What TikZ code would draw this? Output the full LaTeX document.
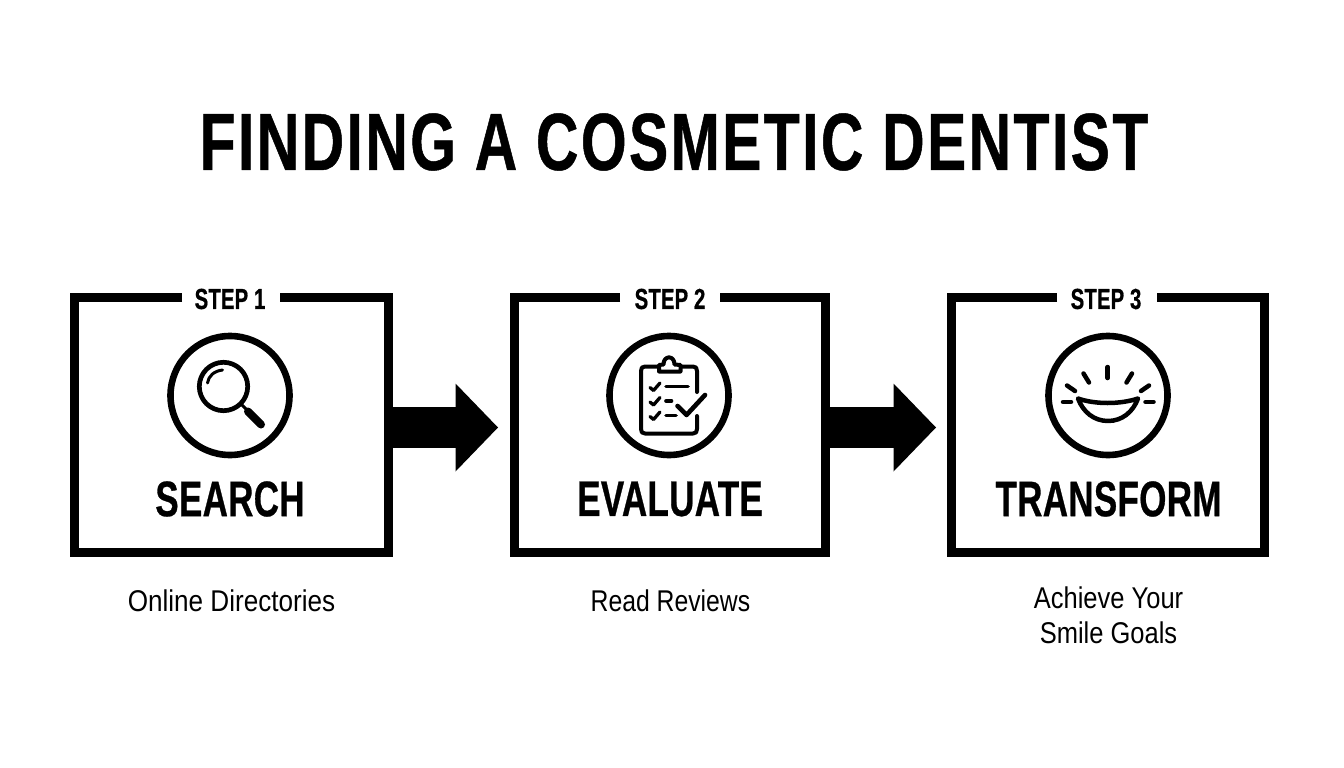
\documentclass[tikz,border=0pt]{standalone}
\usepackage{fontspec}
\usetikzlibrary{arrows.meta,calc}
\newfontfamily\headfont[FakeStretch=0.726,LetterSpace=3,FakeBold=0.6]{Liberation Sans Bold}
\newfontfamily\stepfont[FakeStretch=0.70,LetterSpace=0.6,FakeBold=0.6]{Liberation Sans Bold}
\newfontfamily\subfont[FakeStretch=0.85]{Liberation Sans}
\newfontfamily\subfontA[FakeStretch=0.87]{Liberation Sans}
\newfontfamily\subfontB[FakeStretch=0.825]{Liberation Sans}
\definecolor{ink}{HTML}{000000}
\tikzset{
  x=1pt,y=-1pt,
  boxframe/.style={draw=none,minimum width=314pt,minimum height=254pt,inner sep=0pt,outer sep=4.5pt},
  frameline/.style={draw=ink,line width=9pt,line join=miter},
  stepname/.style={text=ink,font=\stepfont\fontsize{29}{30}\selectfont,inner sep=0pt,anchor=center},
  boxtitle/.style={text=ink,font=\stepfont\fontsize{50}{52}\selectfont,inner sep=0pt,anchor=center},
  subtext/.style={text=ink,font=\subfont\fontsize{30}{35}\selectfont,inner sep=0pt,anchor=center,align=center},
  ringicon/.style={circle,draw=ink,line width=6.6pt,minimum size=119pt,inner sep=0pt,outer sep=3.3pt},
  glyph/.style={draw=ink,line width=4.5pt,line cap=round,line join=round},
  blockarrow/.style={draw=ink,line width=40.5pt,-{Triangle[length=42.5pt,width=88pt,line width=0pt,fill=ink]}},
}
\begin{document}
\begin{tikzpicture}
\useasboundingbox[fill=white] (0,0) rectangle (1344,768);
\node[text=ink,inner sep=0pt,font=\headfont\fontsize{81}{84}\selectfont] (title) at (674,142) {FINDING A COSMETIC DENTIST};

% boxes
\node[boxframe] (box1) at (231.5,424.5) {};
\node[boxframe,minimum width=311pt] (box2) at (670,424.5) {};
\node[boxframe,minimum width=313pt] (box3) at (1108,424.5) {};
\draw[frameline] (182,297.5) -- (74.5,297.5) -- (74.5,552) -- (388.5,552) -- (388.5,297.5) -- (280,297.5);
\draw[frameline] (620,297.5) -- (514.5,297.5) -- (514.5,552) -- (825.5,552) -- (825.5,297.5) -- (720,297.5);
\draw[frameline] (1057,297.5) -- (951.5,297.5) -- (951.5,552) -- (1264.5,552) -- (1264.5,297.5) -- (1157,297.5);
\node[stepname] (s1) at (230,299) {STEP 1};
\node[stepname] (s2) at (670,299) {STEP 2};
\node[stepname] (s3) at (1106,299) {STEP 3};

% arrows
\coordinate (tip1) at (498,427.5);
\coordinate (tip2) at (936,427.5);
\draw[blockarrow] (box1.east|-tip1) -- (tip1);
\draw[blockarrow] (box2.east|-tip2) -- (tip2);

% ring icons
\node[ringicon] (ring1) at (230,395.5) {};
\node[ringicon] (ring2) at (669,395.5) {};
\node[ringicon] (ring3) at (1108,395.5) {};

% magnifier
\draw[glyph,line width=4.7pt] (223.5,386.5) circle (24.2);
\draw[glyph,line width=3pt] (207.5,383) .. controls (208.5,376) and (214,371) .. (222.5,370);
\draw[glyph,line width=3pt] (241,404) -- (249,412);
\draw[glyph,line width=8pt] (248,411.5) -- (261,424.5);

% clipboard
\draw[glyph,line width=4pt] (697,392) -- (697,371) .. controls (697,368) and (696,366.5) .. (693,366.5) -- (682,366.5);
\draw[glyph,line width=4pt] (658,366.5) -- (645,366.5) .. controls (642,366.5) and (641,368) .. (641,371) -- (641,429) .. controls (641,432) and (642,433.5) .. (645,433.5) -- (693,433.5) .. controls (696,433.5) and (697,432) .. (697,429) -- (697,416);
\draw[glyph,line width=4pt,fill=white] (659,371.5) -- (659,365) -- (663.5,364.5) .. controls (663.5,355) and (674.5,355) .. (674.5,364.5) -- (680.5,365) -- (680.5,371.5) -- cycle;
\foreach \yy/\xe in {0/688,14.5/671.5,29/676}{
  \draw[glyph,line width=3.3pt] (650,{387.5+\yy}) -- (653.5,{390.5+\yy}) -- (660,{383+\yy});
  \draw[glyph,line width=3.6pt] (666,{386.5+\yy}) -- (\xe,{386.5+\yy});
}
\draw[glyph,line width=4.6pt] (677.5,406) -- (686.5,415) -- (705,395);

% smile
\foreach \ax/\ay/\bx/\by in {1107.7/367/1107.7/378, 1083.5/373.5/1089/382.5, 1132/373.5/1126.5/382.5, 1067/385.5/1075/391, 1149/385.5/1141/391, 1063/402/1071/402, 1145.5/402/1153.5/402}{
  \draw[glyph] (\ax,\ay) -- (\bx,\by);
}
\draw[glyph] (1078,398.5) .. controls (1095,404.5) and (1120,404.5) .. (1138,398.5) .. controls (1133,412) and (1122,421) .. (1108,421) .. controls (1094,421) and (1083,412) .. (1078,398.5) -- cycle;

% titles
\node[boxtitle] (t1) at (230,499) {SEARCH};
\node[boxtitle] (t2) at (670,499) {EVALUATE};
\node[boxtitle] (t3) at (1108.5,499) {TRANSFORM};

% captions
\node[subtext,font=\subfontA\fontsize{30}{35}\selectfont] (c1) at (231.5,600.5) {Online Directories};
\node[subtext,font=\subfontB\fontsize{30}{35}\selectfont] (c2) at (670.5,600.5) {Read Reviews};
\node[subtext] (c3) at (1108.5,615) {Achieve Your\\Smile Goals};
\end{tikzpicture}
\end{document}
